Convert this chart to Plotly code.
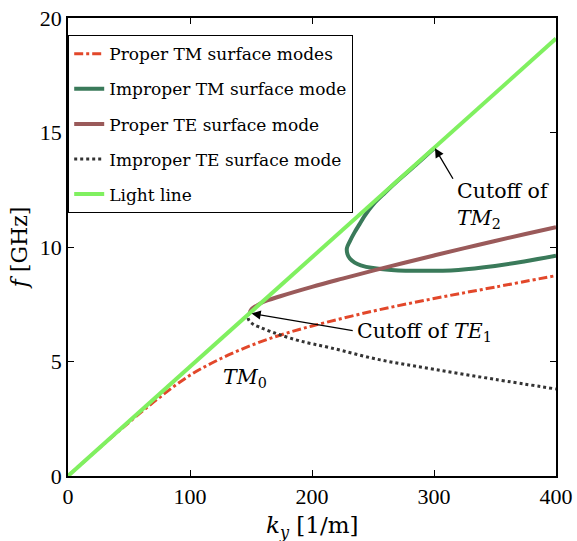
import plotly.graph_objects as go

# ---- data ----
light_k = [0, 400]
light_f = [0, 19.1]

tm0_k = [0, 25, 50, 75, 100, 125, 150, 175, 200, 250, 300, 350, 400]
tm0_f = [0, 1.19, 2.34, 3.43, 4.4, 5.12, 5.7, 6.17, 6.55, 7.2, 7.75, 8.25, 8.75]

tm2_k = [300, 285, 270, 260, 250, 243, 239, 235, 231, 228.6, 229, 231, 235, 240, 250,
         265, 290, 320, 350, 375, 400]
tm2_f = [14.3, 13.58, 12.88, 12.38, 11.85, 11.35, 11.0, 10.65, 10.25, 9.95, 9.7, 9.5,
         9.32, 9.2, 9.08, 9.0, 8.96, 9.0, 9.17, 9.38, 9.62]

te_p_k = [149, 150, 152, 156, 160, 174, 200, 225, 250, 275, 300, 325, 350, 375, 400]
te_p_f = [7.15, 7.25, 7.35, 7.48, 7.6, 7.85, 8.26, 8.62, 8.97, 9.3, 9.63, 9.95, 10.26, 10.57, 10.87]

te_i_k = [149, 147.5, 148.5, 152, 157, 165, 174, 190, 215, 256, 300, 350, 400]
te_i_f = [7.15, 6.95, 6.78, 6.62, 6.5, 6.33, 6.16, 5.9, 5.6, 5.07, 4.66, 4.22, 3.8]

xticks = [0, 100, 200, 300, 400]
yticks = [0, 5, 10, 15, 20]

FONT = "DejaVu Serif"
TICKFONT = "Liberation Serif"

fig = go.Figure()
fig.add_trace(go.Scatter(x=tm0_k, y=tm0_f, mode="lines", name="Proper TM surface modes",
                         line=dict(color="#e2472a", width=3, dash="dashdot", shape="spline"),
                         legendgroup="a"))
fig.add_trace(go.Scatter(x=tm2_k, y=tm2_f, mode="lines", name="Improper TM surface mode",
                         line=dict(color="#3a7a5a", width=4, shape="spline"), legendgroup="b"))
fig.add_trace(go.Scatter(x=te_p_k, y=te_p_f, mode="lines", name="Proper TE surface mode",
                         line=dict(color="#9a5a5a", width=4, shape="spline"), legendgroup="c"))
fig.add_trace(go.Scatter(x=te_i_k, y=te_i_f, mode="lines", name="Improper TE surface mode",
                         line=dict(color="#333333", width=3, dash="dot", shape="spline"),
                         legendgroup="d"))
fig.add_trace(go.Scatter(x=light_k, y=light_f, mode="lines", name="Light line",
                         line=dict(color="#80f060", width=4), legendgroup="e"))

# annotations (arrows pointing at the cutoffs)
fig.add_annotation(x=150.5, y=7.1, ax=235, ay=6.33, axref="x", ayref="y", xref="x", yref="y",
                   text=" ", showarrow=True, arrowhead=2, arrowsize=1.4, arrowwidth=1.3,
                   arrowcolor="black", font=dict(size=2))
fig.add_annotation(x=235.5, y=6.29, xref="x", yref="y", xanchor="left", yanchor="middle",
                   text="Cutoff of <i>TE</i><sub>1</sub>", showarrow=False,
                   font=dict(family=FONT, size=20.5, color="black"))
fig.add_annotation(x=300.8, y=14.31, ax=317, ay=12.85, axref="x", ayref="y", xref="x", yref="y",
                   text=" ", showarrow=True, arrowhead=2, arrowsize=1.4, arrowwidth=1.3,
                   arrowcolor="black", font=dict(size=2))
fig.add_annotation(x=317, y=11.8, xref="x", yref="y", xanchor="left", yanchor="middle",
                   text="Cutoff of<br><i>TM</i><sub>2</sub>", showarrow=False, align="left",
                   font=dict(family=FONT, size=20.5, color="black"))
fig.add_annotation(x=145, y=4.3, xref="x", yref="y", xanchor="center", yanchor="middle",
                   text="<i>TM</i><sub>0</sub>", showarrow=False,
                   font=dict(family=FONT, size=20.5, color="black"))
# x-axis title
fig.add_annotation(x=0.5, y=-0.074, xref="paper", yref="paper", xanchor="center", yanchor="top",
                   text="<i>k</i><sub><i>y</i></sub> [1/m]", showarrow=False,
                   font=dict(family=FONT, size=23, color="black"))

axis_common = dict(showgrid=False, zeroline=False, showline=True, linecolor="black",
                   linewidth=1.5, mirror="ticks", ticks="inside", ticklen=6,
                   tickcolor="black", automargin=False,
                   tickfont=dict(family=TICKFONT, size=22, color="black"))

fig.update_xaxes(range=[0, 400], tickvals=xticks, ticktext=[str(v) for v in xticks],
                 **axis_common)
fig.update_yaxes(range=[0, 20], tickvals=yticks, ticktext=[str(v) for v in yticks],
                 title=dict(text="<i>f</i> [GHz]",
                            font=dict(family=FONT, size=22, color="black"), standoff=6),
                 **axis_common)

fig.update_layout(
    width=577, height=541,
    margin=dict(l=68, r=21, t=18, b=65, autoexpand=False),
    paper_bgcolor="white", plot_bgcolor="white",
    showlegend=True,
    legend=dict(x=0, y=0.963, xanchor="left", yanchor="top",
                bgcolor="white", bordercolor="black", borderwidth=1.2,
                font=dict(family=FONT, size=17, color="black"),
                tracegroupgap=10, traceorder="grouped"),
)

fig.write_html("out.html")
